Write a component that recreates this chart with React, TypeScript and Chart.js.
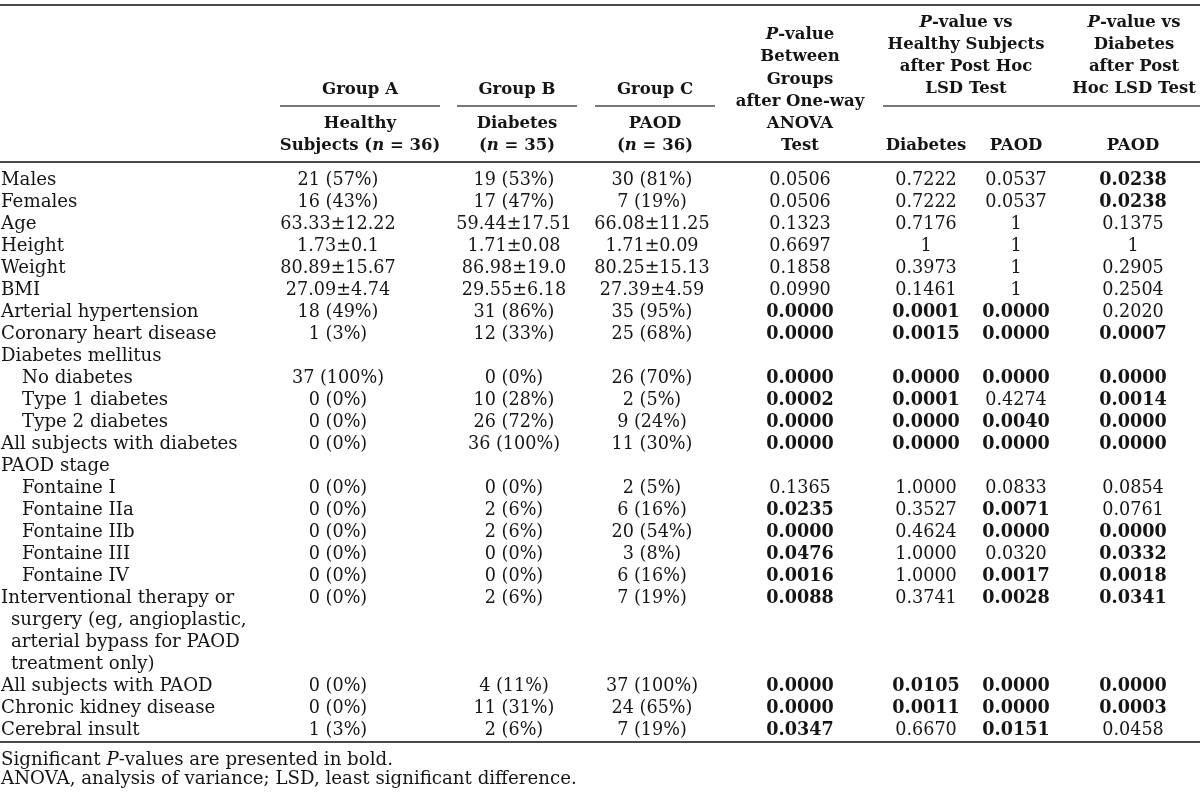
import React, { useEffect, useRef } from "react";
import { Chart, registerables } from "chart.js";

Chart.register(...registerables);

// ---------------- DATA ----------------
const rowLabels = [
  "Males", "Females", "Age", "Height", "Weight", "BMI",
  "Arterial hypertension", "Coronary heart disease", "Diabetes mellitus",
  "No diabetes", "Type 1 diabetes", "Type 2 diabetes", "All subjects with diabetes",
  "PAOD stage", "Fontaine I", "Fontaine IIa", "Fontaine IIb", "Fontaine III", "Fontaine IV",
  "Interventional therapy or", "surgery (eg, angioplastic,", "arterial bypass for PAOD", "treatment only)",
  "All subjects with PAOD", "Chronic kidney disease", "Cerebral insult",
];
// 0 = none, 1 = continuation line, 2 = sub-item
const rowIndent = [0, 0, 0, 0, 0, 0, 0, 0, 0, 2, 2, 2, 0, 0, 2, 2, 2, 2, 2, 0, 1, 1, 1, 0, 0, 0];

const healthySubjects = [
  "21 (57%)", "16 (43%)", "63.33±12.22", "1.73±0.1", "80.89±15.67", "27.09±4.74",
  "18 (49%)", "1 (3%)", "", "37 (100%)", "0 (0%)", "0 (0%)", "0 (0%)", "",
  "0 (0%)", "0 (0%)", "0 (0%)", "0 (0%)", "0 (0%)", "0 (0%)", "", "", "",
  "0 (0%)", "0 (0%)", "1 (3%)",
];
const diabetesGroup = [
  "19 (53%)", "17 (47%)", "59.44±17.51", "1.71±0.08", "86.98±19.0", "29.55±6.18",
  "31 (86%)", "12 (33%)", "", "0 (0%)", "10 (28%)", "26 (72%)", "36 (100%)", "",
  "0 (0%)", "2 (6%)", "2 (6%)", "0 (0%)", "0 (0%)", "2 (6%)", "", "", "",
  "4 (11%)", "11 (31%)", "2 (6%)",
];
const paodGroup = [
  "30 (81%)", "7 (19%)", "66.08±11.25", "1.71±0.09", "80.25±15.13", "27.39±4.59",
  "35 (95%)", "25 (68%)", "", "26 (70%)", "2 (5%)", "9 (24%)", "11 (30%)", "",
  "2 (5%)", "6 (16%)", "20 (54%)", "3 (8%)", "6 (16%)", "7 (19%)", "", "", "",
  "37 (100%)", "24 (65%)", "7 (19%)",
];
const pAnova = [
  "0.0506", "0.0506", "0.1323", "0.6697", "0.1858", "0.0990", "0.0000", "0.0000", "",
  "0.0000", "0.0002", "0.0000", "0.0000", "", "0.1365", "0.0235", "0.0000", "0.0476",
  "0.0016", "0.0088", "", "", "", "0.0000", "0.0000", "0.0347",
];
const pHealthyVsDiabetes = [
  "0.7222", "0.7222", "0.7176", "1", "0.3973", "0.1461", "0.0001", "0.0015", "",
  "0.0000", "0.0001", "0.0000", "0.0000", "", "1.0000", "0.3527", "0.4624", "1.0000",
  "1.0000", "0.3741", "", "", "", "0.0105", "0.0011", "0.6670",
];
const pHealthyVsPaod = [
  "0.0537", "0.0537", "1", "1", "1", "1", "0.0000", "0.0000", "",
  "0.0000", "0.4274", "0.0040", "0.0000", "", "0.0833", "0.0071", "0.0000", "0.0320",
  "0.0017", "0.0028", "", "", "", "0.0000", "0.0000", "0.0151",
];
const pDiabetesVsPaod = [
  "0.0238", "0.0238", "0.1375", "1", "0.2905", "0.2504", "0.2020", "0.0007", "",
  "0.0000", "0.0014", "0.0000", "0.0000", "", "0.0854", "0.0761", "0.0000", "0.0332",
  "0.0018", "0.0341", "", "", "", "0.0000", "0.0003", "0.0458",
];
// rows whose P-values are significant (printed in bold)
const boldAnova = [6, 7, 9, 10, 11, 12, 15, 16, 17, 18, 19, 23, 24, 25];
const boldHealthyVsDiabetes = [6, 7, 9, 10, 11, 12, 23, 24];
const boldHealthyVsPaod = [6, 7, 9, 11, 12, 15, 16, 18, 19, 23, 24, 25];
const boldDiabetesVsPaod = [0, 1, 7, 9, 10, 11, 12, 16, 17, 18, 19, 23, 24];

const groupHeaders = ["Group A", "Group B", "Group C"];
const groupSubHeaders = [
  ["Healthy", "Subjects (_n_ = 36)"],
  ["Diabetes", "(_n_ = 35)"],
  ["PAOD", "(_n_ = 36)"],
];
const anovaHeader = ["_P_-value", "Between", "Groups", "after One-way", "ANOVA", "Test"];
const vsHealthyHeader = ["_P_-value vs", "Healthy Subjects", "after Post Hoc", "LSD Test"];
const vsDiabetesHeader = ["_P_-value vs", "Diabetes", "after Post", "Hoc LSD Test"];
const comparisonHeaders = ["Diabetes", "PAOD", "PAOD"];
const footnotes = [
  "Significant _P_-values are presented in bold.",
  "ANOVA, analysis of variance; LSD, least significant difference.",
];

// ---------------- LAYOUT ----------------
const W = 1200;
const H = 798;
const FONT = '"DejaVu Serif"';
const LABEL_SIZE = 18.2;
const NUM_SIZE = 17.6;
const HEAD_SIZE = 16.5;
const TEXT_COLOR = "#151515";
const RULE_COLOR = "#4a4a4a";

const ROW0 = 180;
const ROW_STEP = 22.0;
const INDENT = [1, 11, 22];
const COL_X = [338, 514, 652, 800, 926, 1016, 1133];
const HEAD_LINE_Y = [23, 45, 67, 89, 111, 124, 146];
const BOTTOM_RULE_Y = 742;
const FOOT_Y = 760;
const FOOT_STEP = 19.5;

const rules = [
  { x0: 0, x1: W, y: 5, w: 2 },
  { x0: 280, x1: 440, y: 106, w: 1.5 },
  { x0: 457, x1: 577, y: 106, w: 1.5 },
  { x0: 595, x1: 715, y: 106, w: 1.5 },
  { x0: 883, x1: W, y: 106, w: 1.5 },
  { x0: 0, x1: W, y: 162, w: 2 },
  { x0: 0, x1: W, y: BOTTOM_RULE_Y, w: 2 },
];

type Seg = { t: string; it: boolean };
function parse(s: string): Seg[] {
  return s
    .split("_")
    .map((t, i) => ({ t, it: i % 2 === 1 }))
    .filter((p) => p.t.length > 0);
}

function drawRich(
  ctx: CanvasRenderingContext2D,
  text: string,
  x: number,
  y: number,
  align: "left" | "center",
  size: number,
  bold: boolean
) {
  if (!text) return;
  const segs = parse(text);
  const fontFor = (it: boolean) => `${it ? "italic " : ""}${bold ? "bold " : ""}${size}px ${FONT}`;
  let total = 0;
  const widths = segs.map((s) => {
    ctx.font = fontFor(s.it);
    const w = ctx.measureText(s.t).width;
    total += w;
    return w;
  });
  let cx = align === "center" ? x - total / 2 : x;
  ctx.textAlign = "left";
  ctx.textBaseline = "middle";
  ctx.fillStyle = TEXT_COLOR;
  segs.forEach((s, i) => {
    ctx.font = fontFor(s.it);
    ctx.fillText(s.t, cx, y);
    cx += widths[i];
  });
}

const tablePlugin = {
  id: "tableText",
  afterDatasetsDraw(chart: any) {
    const ctx: CanvasRenderingContext2D = chart.ctx;
    const xs = chart.scales.x;
    const ys = chart.scales.y;
    const px = (v: number) => xs.getPixelForValue(v);
    const py = (v: number) => ys.getPixelForValue(v);
    const rowY = (i: number) => py(ROW0 + i * ROW_STEP);
    ctx.save();

    // header
    groupHeaders.forEach((g, i) => {
      drawRich(ctx, g, px(COL_X[i] + (i === 0 ? 22 : 3)), py(90), "center", HEAD_SIZE, true);
      groupSubHeaders[i].forEach((s, k) =>
        drawRich(ctx, s, px(COL_X[i] + (i === 0 ? 22 : 3)), py(HEAD_LINE_Y[5 + k]), "center", HEAD_SIZE, true)
      );
    });
    anovaHeader.forEach((s, k) =>
      drawRich(ctx, s, px(COL_X[3]), py(35 + k * 22.2), "center", HEAD_SIZE, true)
    );
    vsHealthyHeader.forEach((s, k) =>
      drawRich(ctx, s, px(966), py(HEAD_LINE_Y[k]), "center", HEAD_SIZE, true)
    );
    vsDiabetesHeader.forEach((s, k) =>
      drawRich(ctx, s, px(1134), py(HEAD_LINE_Y[k]), "center", HEAD_SIZE, true)
    );
    comparisonHeaders.forEach((s, k) =>
      drawRich(ctx, s, px(COL_X[4 + k]), py(HEAD_LINE_Y[6]), "center", HEAD_SIZE, true)
    );

    // body
    const cols = [healthySubjects, diabetesGroup, paodGroup, pAnova, pHealthyVsDiabetes, pHealthyVsPaod, pDiabetesVsPaod];
    const bolds = [[], [], [], boldAnova, boldHealthyVsDiabetes, boldHealthyVsPaod, boldDiabetesVsPaod] as number[][];
    rowLabels.forEach((lab, i) => {
      drawRich(ctx, lab, px(INDENT[rowIndent[i]]), rowY(i), "left", LABEL_SIZE, false);
      cols.forEach((col, c) => {
        drawRich(ctx, col[i], px(COL_X[c]), rowY(i), "center", NUM_SIZE, bolds[c].includes(i));
      });
    });

    // footnotes
    footnotes.forEach((f, k) => drawRich(ctx, f, px(1), py(FOOT_Y + k * FOOT_STEP), "left", LABEL_SIZE, false));
    ctx.restore();
  },
};

export default function App() {
  const ref = useRef<HTMLCanvasElement | null>(null);
  useEffect(() => {
    if (!ref.current) return;
    const chart = new Chart(ref.current, {
      type: "scatter",
      data: {
        datasets: rules.map((r) => ({
          data: [
            { x: r.x0, y: r.y },
            { x: r.x1, y: r.y },
          ],
          showLine: true,
          borderColor: RULE_COLOR,
          borderWidth: r.w,
          pointRadius: 0,
          pointHoverRadius: 0,
          clip: false as any,
        })),
      },
      options: {
        animation: false,
        responsive: false,
        devicePixelRatio: 1,
        events: [],
        layout: { padding: 0 },
        plugins: { legend: { display: false }, tooltip: { enabled: false }, title: { display: false } },
        scales: {
          x: { type: "linear", min: 0, max: W, display: false },
          y: { type: "linear", min: 0, max: H, reverse: true, display: false },
        },
      },
      plugins: [tablePlugin],
    });
    return () => chart.destroy();
  }, []);
  return (
    <div style={{ position: "fixed", left: 0, top: 0, width: W, height: H, background: "#fff" }}>
      <canvas ref={ref} width={W} height={H} style={{ display: "block", width: W, height: H }} />
    </div>
  );
}
